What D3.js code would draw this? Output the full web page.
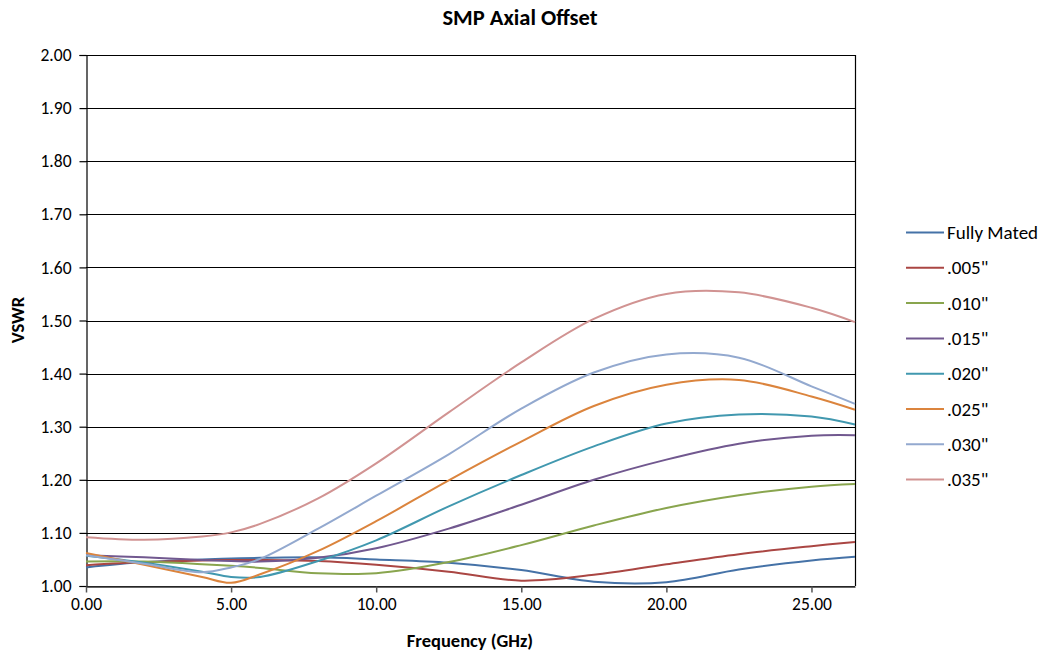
<!DOCTYPE html>
<html>
<head>
<meta charset="utf-8">
<script src="https://cdn.jsdelivr.net/npm/d3@7"></script>
<style>
  html, body { margin: 0; padding: 0; background: #fff; }
  svg { display: block; font-family: Calibri, Carlito, Lato, "Open Sans", sans-serif; }
</style>
</head>
<body>
<svg id="chart" width="1044" height="653"></svg>
<script>
const frequencies = [0, 2, 4, 5, 6, 8, 10, 12.5, 15, 17.5, 20, 22.5, 25, 26.5];
const seriesNames = ["Fully Mated", ".005\"", ".010\"", ".015\"", ".020\"", ".025\"", ".030\"", ".035\""];
const fullyMated = [1.035, 1.045, 1.050, 1.052, 1.053, 1.054, 1.050, 1.044, 1.030, 1.008, 1.007, 1.031, 1.048, 1.055];
const offset005  = [1.039, 1.045, 1.048, 1.049, 1.049, 1.047, 1.040, 1.027, 1.010, 1.021, 1.041, 1.060, 1.075, 1.083];
const offset010  = [1.046, 1.046, 1.041, 1.038, 1.034, 1.024, 1.024, 1.045, 1.077, 1.114, 1.147, 1.171, 1.187, 1.192];
const offset015  = [1.058, 1.054, 1.049, 1.047, 1.046, 1.053, 1.071, 1.108, 1.153, 1.200, 1.238, 1.268, 1.283, 1.284];
const offset020  = [1.057, 1.044, 1.027, 1.017, 1.017, 1.047, 1.086, 1.150, 1.209, 1.263, 1.306, 1.323, 1.319, 1.304];
const offset025  = [1.062, 1.040, 1.017, 1.006, 1.022, 1.066, 1.122, 1.199, 1.272, 1.339, 1.379, 1.388, 1.357, 1.332];
const offset030  = [1.058, 1.042, 1.026, 1.035, 1.051, 1.108, 1.170, 1.248, 1.334, 1.402, 1.436, 1.430, 1.376, 1.343];
const offset035  = [1.092, 1.087, 1.093, 1.101, 1.117, 1.165, 1.231, 1.327, 1.421, 1.503, 1.550, 1.553, 1.524, 1.497];
const yTicks = [1.00, 1.10, 1.20, 1.30, 1.40, 1.50, 1.60, 1.70, 1.80, 1.90, 2.00];
const xTicks = [0, 5, 10, 15, 20, 25];
const colors = ["#4572A7", "#AA4643", "#89A54E", "#71588F", "#4198AF", "#DB843D", "#93A9CF", "#D19392"];

const allSeries = [fullyMated, offset005, offset010, offset015, offset020, offset025, offset030, offset035];

const svg = d3.select("#chart");
const margin = {left: 86, right: 855, top: 55, bottom: 586};

const x = d3.scaleLinear().domain([0, 26.5]).range([margin.left, margin.right]);
const y = d3.scaleLinear().domain([1.0, 2.0]).range([margin.bottom, margin.top]);

const fontStack = "Calibri, Carlito, Lato, sans-serif";

// gridlines
svg.append("g")
  .selectAll("line")
  .data(yTicks)
  .join("line")
  .attr("x1", margin.left).attr("x2", margin.right)
  .attr("y1", d => Math.round(y(d)) + 0.5).attr("y2", d => Math.round(y(d)) + 0.5)
  .attr("stroke", "#000").attr("stroke-width", 1.2);

// right border
svg.append("line")
  .attr("x1", margin.right + 0.5).attr("x2", margin.right + 0.5)
  .attr("y1", margin.top).attr("y2", margin.bottom)
  .attr("stroke", "#000").attr("stroke-width", 1.2);

// y axis
const yAxis = svg.append("g")
  .attr("transform", `translate(${margin.left + 0.5},0)`)
  .call(d3.axisLeft(y).tickValues(yTicks).tickFormat(d3.format(".2f")).tickSize(7).tickPadding(8));
yAxis.select(".domain").attr("stroke", "#000").attr("stroke-width", 1.2);
yAxis.selectAll(".tick line").attr("stroke", "#000").attr("stroke-width", 1.2);
yAxis.selectAll(".tick text").attr("font-size", 17.5).attr("fill", "#000")
  .style("font-family", fontStack);

// x axis
const xAxis = svg.append("g")
  .attr("transform", `translate(0,${Math.round(y(1.0)) + 0.5})`)
  .call(d3.axisBottom(x).tickValues(xTicks).tickFormat(d3.format(".2f")).tickSize(6).tickPadding(5).tickSizeOuter(0));
xAxis.select(".domain").attr("stroke", "#333").attr("stroke-width", 1.5);
xAxis.selectAll(".tick line").attr("stroke", "#555").attr("stroke-width", 1.5);
xAxis.selectAll(".tick text").attr("font-size", 17.5).attr("fill", "#000")
  .style("font-family", fontStack);

// lines
const line = d3.line()
  .x((d, i) => x(frequencies[i]))
  .y(d => y(d))
  .curve(d3.curveCatmullRom.alpha(0.5));

svg.append("g")
  .selectAll("path")
  .data(allSeries)
  .join("path")
  .attr("d", d => line(d))
  .attr("fill", "none")
  .attr("stroke", (d, i) => colors[i])
  .attr("stroke-width", 2);

// title
svg.append("text")
  .attr("x", 520).attr("y", 25)
  .attr("text-anchor", "middle")
  .attr("font-size", 22.5).attr("font-weight", "bold")
  .text("SMP Axial Offset");

// axis titles
svg.append("text")
  .attr("x", 470).attr("y", 647)
  .attr("text-anchor", "middle")
  .attr("font-size", 18.5).attr("font-weight", "bold")
  .text("Frequency (GHz)");

svg.append("text")
  .attr("transform", "translate(24,320) rotate(-90)")
  .attr("text-anchor", "middle")
  .attr("font-size", 18.5).attr("font-weight", "bold")
  .text("VSWR");

// legend
const legend = svg.append("g");
const rows = legend.selectAll("g")
  .data(seriesNames)
  .join("g")
  .attr("transform", (d, i) => `translate(906,${232 + i * 35.3})`);
rows.append("line")
  .attr("x1", 0).attr("x2", 38)
  .attr("y1", 0.5).attr("y2", 0.5)
  .attr("stroke", (d, i) => colors[i]).attr("stroke-width", 2);
rows.append("text")
  .attr("x", 41).attr("y", 7)
  .attr("font-size", 19)
  .text(d => d);
</script>
</body>
</html>
